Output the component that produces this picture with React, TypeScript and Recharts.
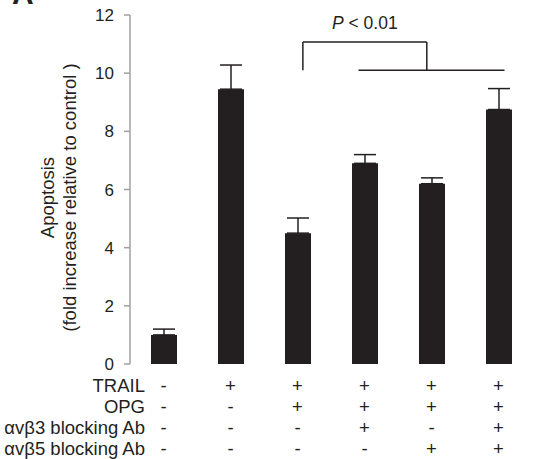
import React from "react";
import { Bar, BarChart, ErrorBar, ReferenceLine, XAxis, YAxis } from "recharts";

const categories = ["g1", "g2", "g3", "g4", "g5", "g6"];
const apoptosis = [1.0, 9.45, 4.5, 6.9, 6.2, 8.75];
const errUp = [0.2, 0.83, 0.52, 0.3, 0.2, 0.72];

const rowNames = ["TRAIL", "OPG", "\u03b1v\u03b23 blocking Ab", "\u03b1v\u03b25 blocking Ab"];
const trail = ["-", "+", "+", "+", "+", "+"];
const opg = ["-", "-", "+", "+", "+", "+"];
const avb3 = ["-", "-", "-", "+", "-", "+"];
const avb5 = ["-", "-", "-", "-", "+", "+"];
const rows = [trail, opg, avb3, avb5];

const yTicks = [0, 2, 4, 6, 8, 10, 12];
const boundaries = [0, 1, 2, 3, 4, 5, 6];

// bracket for the significance mark, in data units (numeric x: 0..6)
const bracketTop = 11.07;
const bracketLow = 10.1;
const bracketLeft = 2.58;
const bracketRight = 4.43;
const bracketLine = [3.41, 5.59];

const INK = "#231f20";
const AXIS = "#a0a0a0";
const FONT = "'Liberation Sans', Arial, Helvetica, sans-serif";

const data = categories.map((id, i) => ({
  id,
  x: i + 0.5,
  value: apoptosis[i],
  err: [0, errUp[i]],
}));

function SignTick({ x, y, payload, index }: any) {
  const i = categories.indexOf(payload.value);
  return (
    <g transform={`translate(${x},${y})`} fontFamily={FONT} fontSize={18.5} fill={INK}>
      {rows.map((r, k) => (
        <text key={k} x={0} y={21 * k + 20} textAnchor="middle">
          {r[i]}
        </text>
      ))}
      {index === 0 &&
        rowNames.map((n, k) => (
          <text key={n} x={-18.5} y={21 * k + 20} textAnchor="end">
            {n}
          </text>
        ))}
    </g>
  );
}

function YLabel({ viewBox }: any) {
  const cy = viewBox.y + viewBox.height / 2 + 8;
  return (
    <g fontFamily={FONT} fontSize={18.5} fill={INK}>
      <text transform={`translate(53.5,${cy}) rotate(-90)`} textAnchor="middle">
        Apoptosis
      </text>
      <text transform={`translate(75.5,${cy}) rotate(-90)`} textAnchor="middle">
        (fold increase relative to control )
      </text>
    </g>
  );
}

function PLabel({ viewBox }: any) {
  return (
    <text x={viewBox.x + viewBox.width / 2} y={viewBox.y - 13.5} textAnchor="middle" fontFamily={FONT} fontSize={17.5} fill={INK}>
      <tspan fontStyle="italic">P</tspan> &lt; 0.01
    </text>
  );
}

export default function App() {
  return (
    <div style={{ position: "absolute", left: 0, top: 0, width: 534, height: 459, background: "#fff" }}>
      <BarChart width={534} height={459} data={data} margin={{ top: 15, right: 2, left: 80, bottom: 0 }}>
        <XAxis
          xAxisId="num"
          dataKey="x"
          type="number"
          domain={[0, 6]}
          ticks={boundaries}
          height={0}
          tickSize={8}
          axisLine={{ stroke: AXIS, strokeWidth: 1.5 }}
          tickLine={{ stroke: AXIS, strokeWidth: 1.5 }}
          tickFormatter={() => ""}
        />
        <XAxis xAxisId="cat" dataKey="id" height={95} axisLine={false} tickLine={false} interval={0} tick={<SignTick />} />
        <YAxis
          domain={[0, 12]}
          ticks={yTicks}
          width={50}
          tickSize={6}
          tickMargin={10}
          axisLine={{ stroke: AXIS, strokeWidth: 1.5 }}
          tickLine={{ stroke: AXIS, strokeWidth: 1.5 }}
          tick={{ fill: INK, fontSize: 17, fontFamily: FONT }}
          label={<YLabel />}
        />
        <Bar xAxisId="cat" dataKey="value" fill={INK} barSize={26} isAnimationActive={false}>
          <ErrorBar dataKey="err" width={11} stroke={INK} strokeWidth={1.5} isAnimationActive={false} />
        </Bar>
        <ReferenceLine
          xAxisId="num"
          segment={[{ x: bracketLeft, y: bracketTop }, { x: bracketRight, y: bracketTop }]}
          stroke={INK}
          strokeWidth={1.5}
          label={<PLabel />}
        />
        <ReferenceLine xAxisId="num" segment={[{ x: bracketLeft, y: bracketTop }, { x: bracketLeft, y: bracketLow }]} stroke={INK} strokeWidth={1.5} />
        <ReferenceLine xAxisId="num" segment={[{ x: bracketRight, y: bracketTop }, { x: bracketRight, y: bracketLow }]} stroke={INK} strokeWidth={1.5} />
        <ReferenceLine
          xAxisId="num"
          segment={[{ x: bracketLine[0], y: bracketLow }, { x: bracketLine[1], y: bracketLow }]}
          stroke={INK}
          strokeWidth={1.5}
        />
      </BarChart>
      <svg width={534} height={459} style={{ position: "absolute", left: 0, top: 0, pointerEvents: "none" }}>
        <text x={12} y={4} fontFamily={FONT} fontWeight="bold" fontSize={30} fill={INK}>
          A
        </text>
      </svg>
    </div>
  );
}
